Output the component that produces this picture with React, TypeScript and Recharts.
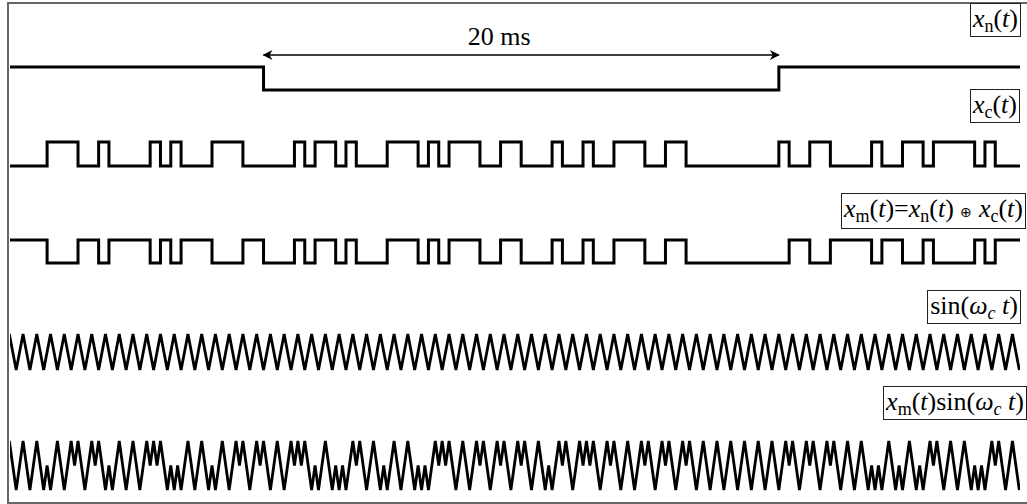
import React from "react";
import { LineChart, Line, XAxis, YAxis, ReferenceLine } from "recharts";

// x_n(t): one data bit lasts 50 chips (20 ms)
const dataBits = [1, 0, 1];
const dataBitStart = [-25, 25, 75];

// x_c(t): spreading code, one value per chip
const chipCode = [
  0, 0, 0, 0, 1, 1, 1, 0, 0, 1,
  0, 0, 0, 0, 1, 0, 1, 0, 0, 0,
  1, 1, 1, 0, 0, 0, 0, 0, 1, 0,
  1, 1, 0, 1, 0, 0, 0, 1, 1, 1,
  0, 1, 0, 1, 1, 1, 0, 0, 1, 1,
  0, 0, 0, 1, 0, 0, 1, 0, 0, 1,
  1, 1, 0, 0, 1, 1, 0, 0, 0, 0,
  0, 0, 0, 0, 0, 1, 0, 0, 1, 1,
  0, 0, 0, 0, 1, 0, 0, 1, 1, 0,
  1, 1, 1, 1, 0, 1, 0, 0, 0,
];

// x_m(t) = x_n(t) xor x_c(t), one value per chip
const modulated = [
  1, 1, 1, 1, 0, 0, 0, 1, 1, 0,
  1, 1, 1, 1, 0, 1, 0, 1, 1, 1,
  0, 0, 0, 1, 1, 0, 0, 0, 1, 0,
  1, 1, 0, 1, 0, 0, 0, 1, 1, 1,
  0, 1, 0, 1, 1, 1, 0, 0, 1, 1,
  0, 0, 0, 1, 0, 0, 1, 0, 0, 1,
  1, 1, 0, 0, 1, 1, 0, 0, 0, 0,
  0, 0, 0, 0, 0, 0, 1, 1, 0, 0,
  1, 1, 1, 1, 0, 1, 1, 0, 0, 1,
  0, 0, 0, 0, 1, 0, 1, 1, 1,
];

// sin(wc t), 3 samples per chip, 4 samples per carrier period
const carrier = [
  0, 1, 0, -1, 0, 1, 0, -1, 0, 1, 0, -1, 0, 1, 0, -1, 0, 1, 0, -1,
  0, 1, 0, -1, 0, 1, 0, -1, 0, 1, 0, -1, 0, 1, 0, -1, 0, 1, 0, -1,
  0, 1, 0, -1, 0, 1, 0, -1, 0, 1, 0, -1, 0, 1, 0, -1, 0, 1, 0, -1,
  0, 1, 0, -1, 0, 1, 0, -1, 0, 1, 0, -1, 0, 1, 0, -1, 0, 1, 0, -1,
  0, 1, 0, -1, 0, 1, 0, -1, 0, 1, 0, -1, 0, 1, 0, -1, 0, 1, 0, -1,
  0, 1, 0, -1, 0, 1, 0, -1, 0, 1, 0, -1, 0, 1, 0, -1, 0, 1, 0, -1,
  0, 1, 0, -1, 0, 1, 0, -1, 0, 1, 0, -1, 0, 1, 0, -1, 0, 1, 0, -1,
  0, 1, 0, -1, 0, 1, 0, -1, 0, 1, 0, -1, 0, 1, 0, -1, 0, 1, 0, -1,
  0, 1, 0, -1, 0, 1, 0, -1, 0, 1, 0, -1, 0, 1, 0, -1, 0, 1, 0, -1,
  0, 1, 0, -1, 0, 1, 0, -1, 0, 1, 0, -1, 0, 1, 0, -1, 0, 1, 0, -1,
  0, 1, 0, -1, 0, 1, 0, -1, 0, 1, 0, -1, 0, 1, 0, -1, 0, 1, 0, -1,
  0, 1, 0, -1, 0, 1, 0, -1, 0, 1, 0, -1, 0, 1, 0, -1, 0, 1, 0, -1,
  0, 1, 0, -1, 0, 1, 0, -1, 0, 1, 0, -1, 0, 1, 0, -1, 0, 1, 0, -1,
  0, 1, 0, -1, 0, 1, 0, -1, 0, 1, 0, -1, 0, 1, 0, -1, 0, 1, 0, -1,
  0, 1, 0, -1, 0, 1, 0, -1, 0, 1, 0, -1, 0, 1, 0, -1,
];

// x_m(t) sin(wc t), same samples
const product = [
  0, 1, 0, -1, 0, 1, 0, -1, 0, 1, 0, -1, 0, -1, 0, 1, 0, -1, 0, 1,
  0, 1, 0, -1, 0, 1, 0, 1, 0, -1, 0, -1, 0, 1, 0, -1, 0, 1, 0, -1,
  0, 1, 0, 1, 0, 1, 0, -1, 0, -1, 0, -1, 0, 1, 0, -1, 0, 1, 0, -1,
  0, -1, 0, 1, 0, -1, 0, 1, 0, 1, 0, -1, 0, 1, 0, 1, 0, -1, 0, 1,
  0, -1, 0, 1, 0, 1, 0, 1, 0, -1, 0, -1, 0, 1, 0, -1, 0, -1, 0, -1,
  0, 1, 0, 1, 0, -1, 0, 1, 0, -1, 0, -1, 0, 1, 0, -1, 0, 1, 0, -1,
  0, -1, 0, -1, 0, 1, 0, 1, 0, 1, 0, -1, 0, 1, 0, -1, 0, 1, 0, 1,
  0, -1, 0, 1, 0, 1, 0, -1, 0, 1, 0, 1, 0, -1, 0, 1, 0, -1, 0, -1,
  0, 1, 0, 1, 0, -1, 0, 1, 0, 1, 0, 1, 0, -1, 0, 1, 0, 1, 0, -1,
  0, 1, 0, -1, 0, 1, 0, 1, 0, -1, 0, 1, 0, 1, 0, -1, 0, 1, 0, 1,
  0, -1, 0, 1, 0, -1, 0, 1, 0, -1, 0, 1, 0, -1, 0, 1, 0, -1, 0, 1,
  0, -1, 0, 1, 0, -1, 0, 1, 0, 1, 0, -1, 0, 1, 0, 1, 0, -1, 0, 1,
  0, 1, 0, -1, 0, 1, 0, -1, 0, 1, 0, -1, 0, -1, 0, -1, 0, 1, 0, -1,
  0, -1, 0, 1, 0, -1, 0, -1, 0, 1, 0, 1, 0, -1, 0, 1, 0, -1, 0, 1,
  0, -1, 0, -1, 0, -1, 0, 1, 0, 1, 0, -1, 0, 1, 0, -1,
];

const W = 1027;
const H = 504;
const SAMPLES_PER_CHIP = 3;
const CHIP_RANGE = [0.4, 98.4];

const xnData = [
  ...dataBits.map((v, i) => ({ t: dataBitStart[i], v })),
  { t: dataBitStart[dataBitStart.length - 1] + 50, v: dataBits[dataBits.length - 1] },
];
const stepData = (arr: number[]) => [
  ...arr.map((v, i) => ({ t: i, v })),
  { t: arr.length, v: arr[arr.length - 1] },
];
const xcData = stepData(chipCode);
const xmData = stepData(modulated);
const carrierData = carrier.map((v, k) => ({ k, v }));
const productData = product.map((v, k) => ({ k, v }));

const serif = '"Liberation Serif", "Times New Roman", Times, serif';

const Sub = ({ c, italic }: { c: string; italic?: boolean }) => (
  <span style={{ fontSize: 18, position: "relative", top: 5, fontStyle: italic ? "italic" : "normal" }}>{c}</span>
);

const Box = ({ right, top, children }: { right: number; top: number; children: React.ReactNode }) => (
  <div
    style={{
      position: "absolute",
      right,
      top,
      border: "1px solid #222",
      padding: "0 2px",
      fontFamily: serif,
      fontSize: 26,
      lineHeight: "30px",
      whiteSpace: "nowrap",
      background: "#fff",
      color: "#000",
    }}
  >
    {children}
  </div>
);

const spanLabel = (props: any) => {
  const vb = props.viewBox || {};
  const cx = (vb.x ?? 0) + (vb.width ?? 0) / 2;
  const y = vb.y ?? 0;
  return (
    <text x={cx - 22} y={y - 10} textAnchor="middle" fontFamily={serif} fontSize={26} fill="#000">
      20 ms
    </text>
  );
};

const stepProps = { stroke: "#000", strokeWidth: 3, dot: false, isAnimationActive: false } as const;
const waveProps = { stroke: "#000", strokeWidth: 2.8, dot: false, isAnimationActive: false } as const;

export default function App() {
  return (
    <div style={{ position: "absolute", left: 0, top: 0, width: W, height: H, overflow: "hidden", background: "#fff" }}>
      <div
        style={{
          position: "absolute",
          left: 7,
          top: 2,
          width: W,
          height: 498,
          borderLeft: "2px solid #666",
          borderTop: "2px solid #666",
          borderBottom: "2px solid #666",
        }}
      />
      <div style={{ position: "absolute", left: 0, top: 0 }}>
        <LineChart width={W} height={H} margin={{ top: 0, right: 7, bottom: 0, left: 10 }}>
          <defs>
            <marker id="ah" viewBox="0 0 10 10" refX="9" refY="5" markerWidth="11" markerHeight="10" orient="auto-start-reverse" markerUnits="userSpaceOnUse">
              <path d="M0,0 L10,5 L0,10 L3,5 z" fill="#000" />
            </marker>
          </defs>
          <XAxis xAxisId="chip" type="number" dataKey="t" domain={CHIP_RANGE} hide allowDataOverflow />
          <XAxis
            xAxisId="smp"
            type="number"
            dataKey="k"
            domain={[CHIP_RANGE[0] * SAMPLES_PER_CHIP, CHIP_RANGE[1] * SAMPLES_PER_CHIP]}
            hide
            allowDataOverflow
          />
          <YAxis yAxisId="xn" type="number" domain={[-18.0, 3.913]} hide allowDataOverflow />
          <YAxis yAxisId="xc" type="number" domain={[-14.083, 6.917]} hide allowDataOverflow />
          <YAxis yAxisId="xm" type="number" domain={[-10.478, 11.435]} hide allowDataOverflow />
          <YAxis yAxisId="sin" type="number" domain={[-8.444, 19.556]} hide allowDataOverflow />
          <YAxis yAxisId="prod" type="number" domain={[-1.571, 19.0]} hide allowDataOverflow />
          <ReferenceLine
            xAxisId="chip"
            yAxisId="xn"
            segment={[
              { x: dataBitStart[1], y: 1.52 },
              { x: dataBitStart[2], y: 1.52 },
            ]}
            stroke="#000"
            strokeWidth={1.5}
            markerStart="url(#ah)"
            markerEnd="url(#ah)"
            label={spanLabel}
          />
          <Line xAxisId="chip" yAxisId="xn" data={xnData} dataKey="v" type="stepAfter" {...stepProps} />
          <Line xAxisId="chip" yAxisId="xc" data={xcData} dataKey="v" type="stepAfter" {...stepProps} />
          <Line xAxisId="chip" yAxisId="xm" data={xmData} dataKey="v" type="stepAfter" {...stepProps} />
          <Line xAxisId="smp" yAxisId="sin" data={carrierData} dataKey="v" type="linear" {...waveProps} />
          <Line xAxisId="smp" yAxisId="prod" data={productData} dataKey="v" type="linear" {...waveProps} />
        </LineChart>
      </div>
      <Box right={6} top={3}>
        <i>x</i><Sub c="n" />(<i>t</i>)
      </Box>
      <Box right={7} top={89}>
        <i>x</i><Sub c="c" />(<i>t</i>)
      </Box>
      <Box right={1} top={193}>
        <i>x</i><Sub c="m" />(<i>t</i>)=<i>x</i><Sub c="n" />(<i>t</i>) <span style={{ fontSize: 14 }}>⊕</span> <i>x</i><Sub c="c" />(<i>t</i>)
      </Box>
      <Box right={6} top={290}>
        sin(<i>ω</i><Sub c="c" italic /> <i>t</i>)
      </Box>
      <Box right={0} top={386}>
        <i>x</i><Sub c="m" />(<i>t</i>)sin(<i>ω</i><Sub c="c" italic /> <i>t</i>)
      </Box>
    </div>
  );
}
